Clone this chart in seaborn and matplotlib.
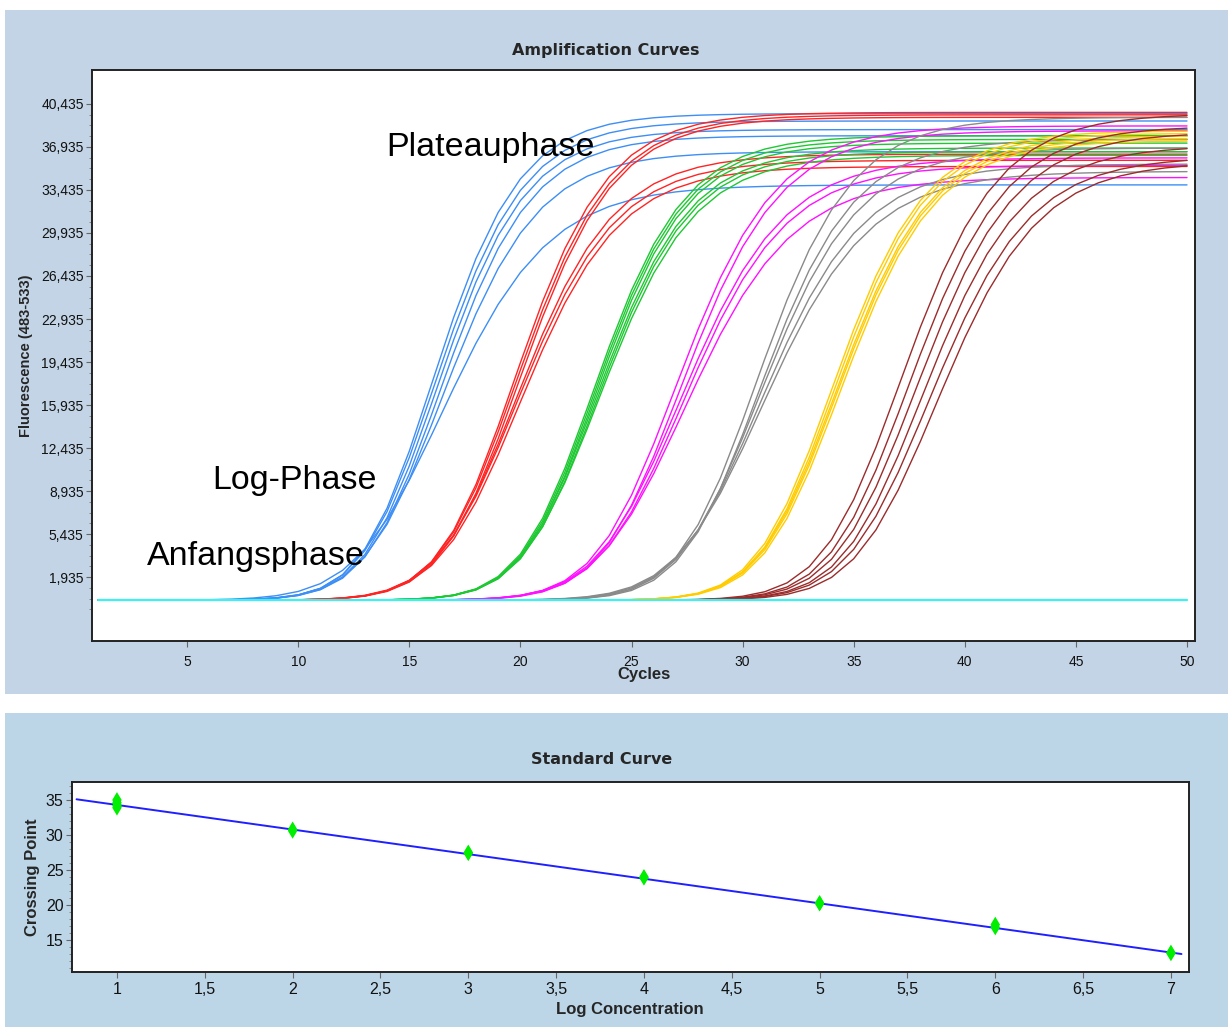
import numpy as np
import pandas as pd
import matplotlib
matplotlib.use("Agg")
import matplotlib.pyplot as plt
import seaborn as sns
from matplotlib.ticker import FixedLocator, MultipleLocator, FuncFormatter
from matplotlib.patches import Rectangle

# ---------------- data ----------------
cycles = list(range(1, 51))
baseline = 0.05
asymmetry = 2.0   # asymmetric sigmoid shape (slow approach to plateau)

# amplification curves: half-plateau cycle, plateau (x1000 fluorescence), steepness
blue_ct = [16.4, 16.5, 16.6, 16.75, 16.85, 16.9]
blue_plateau = [39.6, 39.0, 38.3, 37.8, 36.5, 33.8]
blue_slope = [2.1, 2.15, 2.15, 2.2, 2.3, 2.6]

red_ct = [20.1, 20.2, 20.3, 20.2, 20.25, 20.35]
red_plateau = [39.7, 39.5, 39.3, 36.3, 35.8, 35.3]
red_slope = [2.25, 2.3, 2.3, 2.35, 2.4, 2.4]

green_ct = [23.65, 23.7, 23.75, 23.8, 23.85, 23.9]
green_plateau = [37.8, 37.5, 37.2, 36.8, 36.5, 36.2]
green_slope = [2.2, 2.2, 2.2, 2.25, 2.25, 2.3]

magenta_ct = [27.4, 27.6, 27.6, 27.7, 27.8]
magenta_plateau = [38.6, 38.2, 36.0, 35.4, 34.4]
magenta_slope = [2.4, 2.4, 2.5, 2.5, 2.6]

gray_ct = [31.0, 31.1, 31.15, 31.2, 31.3]
gray_plateau = [39.3, 37.5, 36.8, 35.5, 34.9]
gray_slope = [2.3, 2.3, 2.4, 2.5, 2.6]

yellow_ct = [34.4, 34.5, 34.6, 34.65, 34.75]
yellow_plateau = [38.2, 38.0, 37.8, 37.6, 37.4]
yellow_slope = [2.25, 2.25, 2.3, 2.3, 2.3]

brown_ct = [37.5, 37.85, 38.2, 38.5, 38.8, 39.15]
brown_plateau = [39.6, 38.6, 38.1, 37.0, 36.1, 35.7]
brown_slope = [2.35, 2.35, 2.4, 2.4, 2.45, 2.45]

group_names = ["blue", "red", "green", "magenta", "gray", "yellow", "brown"]
group_colors = ["#3d8ef5", "#ff2424", "#1ec832", "#ff10ff", "#8a8a8a", "#ffcc00", "#9b2c2c"]
negative_color = "#3ff0f0"

y_ticks_top = [1.935, 5.435, 8.935, 12.435, 15.935, 19.435, 22.935,
               26.435, 29.935, 33.435, 36.935, 40.435]
x_ticks_top = [5, 10, 15, 20, 25, 30, 35, 40, 45, 50]

# standard curve
std_logconc = [1, 1, 1, 1, 2, 2, 3, 3, 4, 4, 5, 5, 6, 6, 7, 7]
std_cp = [35.0, 34.6, 34.2, 33.9, 30.8, 30.6, 27.5, 27.4, 24.0, 23.9,
          20.3, 20.2, 17.2, 16.8, 13.2, 13.1]
fit_x = [0.77, 7.06]
fit_y = [35.1, 13.0]
x_ticks_bottom = [1, 1.5, 2, 2.5, 3, 3.5, 4, 4.5, 5, 5.5, 6, 6.5, 7]
y_ticks_bottom = [15, 20, 25, 30, 35]

annotations = [("Plateauphase", 13.95, 36.9),
               ("Log-Phase", 6.15, 9.8),
               ("Anfangsphase", 3.2, 3.6)]

# ---------------- build table ----------------
params = {
    "blue": (blue_ct, blue_plateau, blue_slope),
    "red": (red_ct, red_plateau, red_slope),
    "green": (green_ct, green_plateau, green_slope),
    "magenta": (magenta_ct, magenta_plateau, magenta_slope),
    "gray": (gray_ct, gray_plateau, gray_slope),
    "yellow": (yellow_ct, yellow_plateau, yellow_slope),
    "brown": (brown_ct, brown_plateau, brown_slope),
}
c = np.array(cycles, dtype=float)
half_shift = -np.log(2 ** (1 / asymmetry) - 1)
rows = []
palette = {}
for gname, gcol in zip(group_names, group_colors):
    cts, pls, sls = params[gname]
    for i, (ct, pl, sl) in enumerate(zip(cts, pls, sls)):
        well = f"{gname}{i}"
        palette[well] = gcol
        c0 = ct - half_shift * sl
        f = baseline + pl / (1.0 + np.exp(-(c - c0) / sl)) ** asymmetry
        for ci, fi in zip(c, f):
            rows.append((well, ci, fi))
df = pd.DataFrame(rows, columns=["well", "cycle", "fluor"])
neg = pd.DataFrame({"cycle": cycles, "fluor": [baseline] * len(cycles)})
std_df = pd.DataFrame({"logconc": std_logconc, "cp": std_cp})
fit_df = pd.DataFrame({"logconc": fit_x, "cp": fit_y})

# ---------------- figure ----------------
sns.set_theme(style="ticks")
plt.rcParams["font.family"] = ["Liberation Sans", "DejaVu Sans"]

W, H = 1228, 1027
fig = plt.figure(figsize=(W / 100, H / 100), dpi=100)
fig.patch.set_facecolor("white")

def fx(px):
    return px / W

def fy(py):
    return 1 - py / H

r1 = Rectangle((fx(5), fy(694)), fx(1228 - 5), (694 - 10) / H,
               transform=fig.transFigure, facecolor="#c2d4e5",
               edgecolor="none", zorder=-10)
r2 = Rectangle((fx(5), 0), fx(1228 - 5), (1027 - 713) / H,
               transform=fig.transFigure, facecolor="#bcd6e8",
               edgecolor="none", zorder=-10)
fig.add_artist(r1)
fig.add_artist(r2)

ax1 = fig.add_axes([fx(92), fy(641), fx(1195 - 92), (641 - 70) / H])
ax2 = fig.add_axes([fx(72), fy(972), fx(1188.5 - 72), (972 - 782) / H])

# --- amplification curves ---
sns.lineplot(data=df, x="cycle", y="fluor", hue="well", palette=palette,
             legend=False, estimator=None, linewidth=1.0, ax=ax1)
sns.lineplot(data=neg, x="cycle", y="fluor", color=negative_color,
             linewidth=1.6, ax=ax1, zorder=5)

ax1.set_xlim(0.72, 50.36)
ax1.set_ylim(-3.27, 43.2)
ax1.xaxis.set_major_locator(FixedLocator(x_ticks_top))
ax1.yaxis.set_major_locator(FixedLocator(y_ticks_top))
ax1.yaxis.set_minor_locator(FixedLocator(
    [y_ticks_top[0] + 0.875 * k for k in range(-3, 45)]))
ax1.yaxis.set_major_formatter(FuncFormatter(lambda v, p: f"{v:.3f}".replace(".", ",")))
ax1.set_xlabel("Cycles", fontsize=12, fontweight="bold", labelpad=-1)
ax1.set_ylabel("Fluorescence (483-533)", fontsize=10.5, fontweight="bold", labelpad=6)

for txt, xv, yv in annotations:
    ax1.text(xv, yv, txt, fontsize=24.5, ha="left", va="center", color="black",
             family=["Liberation Sans", "DejaVu Sans"], zorder=10)

# --- standard curve ---
sns.lineplot(data=fit_df, x="logconc", y="cp", color="#1f1fff", linewidth=1.4, ax=ax2)
sns.scatterplot(data=std_df, x="logconc", y="cp", marker="d", s=65,
                color="#00ee00", edgecolor="none", ax=ax2, zorder=5)
ax2.set_xlim(0.744, 7.1)
ax2.set_ylim(10.43, 37.57)
ax2.xaxis.set_major_locator(FixedLocator(x_ticks_bottom))
ax2.yaxis.set_major_locator(FixedLocator(y_ticks_bottom))
ax2.yaxis.set_minor_locator(MultipleLocator(1))
ax2.xaxis.set_major_formatter(FuncFormatter(lambda v, p: f"{v:g}".replace(".", ",")))
ax2.set_xlabel("Log Concentration", fontsize=12, fontweight="bold", labelpad=4)
ax2.set_ylabel("Crossing Point", fontsize=12, fontweight="bold", labelpad=4)

for ax, fs, xpad in ((ax1, 10, 6), (ax2, 11.5, 3)):
    ax.set_facecolor("white")
    for sp in ax.spines.values():
        sp.set_visible(True)
        sp.set_color("#222222")
        sp.set_linewidth(1.4)
    ax.tick_params(axis="both", which="major", direction="out", length=4,
                   width=0.8, color="#666666", labelsize=fs, pad=2,
                   labelcolor="#111111")
    ax.tick_params(axis="both", which="minor", direction="out", length=2.5,
                   width=0.7, color="#888888")
    ax.tick_params(axis="x", which="major", pad=xpad)

fig.text(fx(606), fy(50), "Amplification Curves", ha="center", va="center",
         fontsize=11.5, fontweight="bold", family=["DejaVu Sans"])
fig.text(fx(602), fy(759), "Standard Curve", ha="center", va="center",
         fontsize=11.5, fontweight="bold", family=["DejaVu Sans"])

fig.savefig("out.png", dpi=100, facecolor="white")
